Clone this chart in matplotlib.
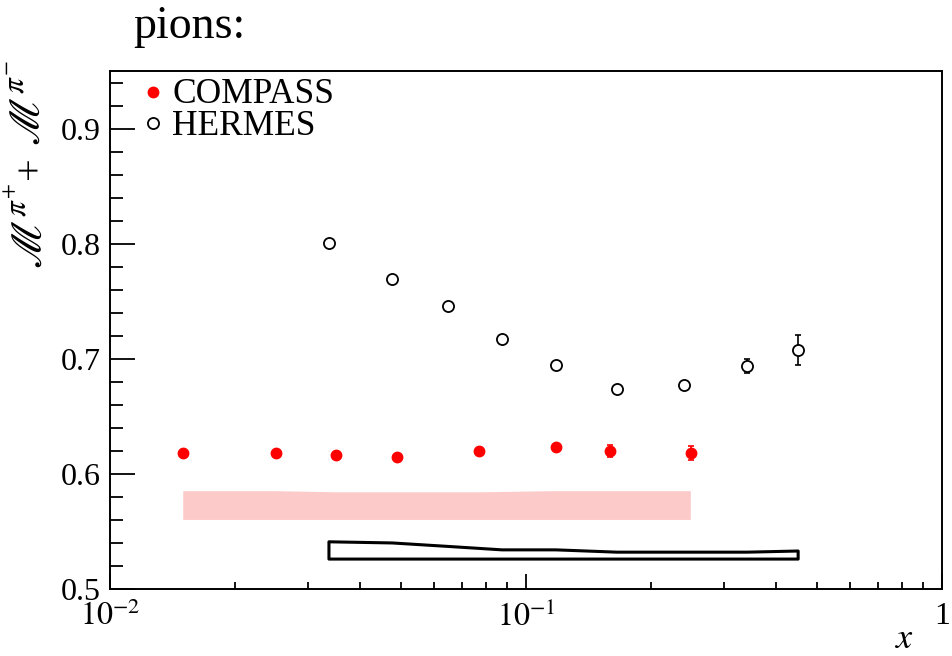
import numpy as np
import matplotlib
matplotlib.use("Agg")
import matplotlib.pyplot as plt
from matplotlib.ticker import FixedLocator, FixedFormatter, LogLocator, NullFormatter, MultipleLocator

plt.rcParams['font.family'] = ['Liberation Serif', 'DejaVu Serif']
plt.rcParams['mathtext.fontset'] = 'stix'

# COMPASS pion multiplicity sums
compass_x = [0.015, 0.025, 0.035, 0.049, 0.077, 0.118, 0.159, 0.249]
compass_y = [0.618, 0.618, 0.616, 0.615, 0.620, 0.623, 0.620, 0.618]
compass_err = [0.002, 0.002, 0.002, 0.002, 0.002, 0.003, 0.005, 0.006]
compass_sys_top = [0.585, 0.585, 0.584, 0.584, 0.584, 0.585, 0.585, 0.585]
compass_sys_base = 0.560

# HERMES pion multiplicity sums
hermes_x = [0.0336, 0.0477, 0.0649, 0.0876, 0.118, 0.1655, 0.240, 0.340, 0.451]
hermes_y = [0.801, 0.769, 0.746, 0.717, 0.695, 0.674, 0.677, 0.694, 0.708]
hermes_err = [0.002, 0.002, 0.002, 0.002, 0.002, 0.002, 0.003, 0.006, 0.013]
hermes_sys_top = [0.541, 0.540, 0.537, 0.534, 0.534, 0.532, 0.532, 0.532, 0.533]
hermes_sys_base = 0.526

W, H = 952, 656
fig = plt.figure(figsize=(W / 100, H / 100), dpi=100)
L, R, T, B = 110, 942, 71, 589
ax = fig.add_axes([L / W, 1 - B / H, (R - L) / W, (B - T) / H])


def fx(px):
    return px / W


def fy(py):
    return 1 - py / H


# systematic bands
ax.fill_between(compass_x, compass_sys_base, compass_sys_top,
                facecolor='#FDCACA', edgecolor='none', zorder=1)
ax.fill_between(hermes_x, hermes_sys_base, hermes_sys_top,
                facecolor='none', edgecolor='black', linewidth=2.2, zorder=2)

# data points
compass_style = dict(marker='o', color='red', markersize=7.5, linestyle='none')
hermes_style = dict(marker='o', markerfacecolor='white', markeredgecolor='black',
                    markeredgewidth=1.3, markersize=8, linestyle='none')

ax.errorbar(compass_x, compass_y, yerr=compass_err, fmt='none',
            ecolor='red', elinewidth=1.2, capsize=2.5, capthick=1.2, zorder=3)
ax.plot(compass_x, compass_y, zorder=4, **compass_style)
ax.errorbar(hermes_x, hermes_y, yerr=hermes_err, fmt='none',
            ecolor='black', elinewidth=1.2, capsize=2.5, capthick=1.2, zorder=3)
ax.plot(hermes_x, hermes_y, zorder=4, **hermes_style)

ax.set_xscale('log')
ax.set_xlim(0.01, 1)
ax.set_ylim(0.5, 0.95)

# ticks
ax.xaxis.set_major_locator(FixedLocator([0.01, 0.1, 1]))
ax.xaxis.set_major_formatter(FixedFormatter([r'$10^{-2}$', r'$10^{-1}$', '1']))
ax.xaxis.set_minor_locator(LogLocator(base=10, subs=np.arange(2, 10)))
ax.xaxis.set_minor_formatter(NullFormatter())
ax.yaxis.set_major_locator(FixedLocator([0.5, 0.6, 0.7, 0.8, 0.9]))
ax.yaxis.set_major_formatter(FixedFormatter(['0.5', '0.6', '0.7', '0.8', '0.9']))
ax.yaxis.set_minor_locator(MultipleLocator(0.02))

ax.tick_params(axis='both', which='both', direction='in', top=False, right=False,
               width=1.3, colors='black')
ax.tick_params(axis='y', which='major', length=18, labelsize=23, pad=7)
ax.tick_params(axis='y', which='minor', length=9)
ax.tick_params(axis='x', which='major', length=11, labelsize=23, pad=9)
ax.tick_params(axis='x', which='minor', length=5)
for sp in ax.spines.values():
    sp.set_linewidth(1.4)

# legend entries
ax.plot([(153 - L) / (R - L)], [(B - 92) / (B - T)],
        transform=ax.transAxes, clip_on=False, **compass_style)
ax.plot([(153 - L) / (R - L)], [(B - 123) / (B - T)],
        transform=ax.transAxes, clip_on=False, **hermes_style)
fig.text(fx(172), fy(103), 'COMPASS', fontsize=25.5, va='baseline', ha='left')
fig.text(fx(172), fy(135), 'HERMES', fontsize=25.5, va='baseline', ha='left')

# title
fig.text(fx(133), fy(38), 'pions:', fontsize=33, va='baseline', ha='left')

# y-axis title, built from three pieces
fig.text(fx(30), fy(269), r'$\mathscr{M}^{\pi^{+}}$', fontsize=32,
         rotation=90, ha='center', va='bottom')
fig.text(fx(31), fy(168), '+', fontsize=29, rotation=90, ha='center', va='center')
fig.text(fx(30), fy(60), r'$\mathscr{M}^{\pi^{-}}$', fontsize=32,
         rotation=90, ha='center', va='top')

# x-axis title
fig.text(fx(905), fy(640), r'$x$', fontsize=26, ha='center', va='center')

fig.savefig('out.png', dpi=100)
